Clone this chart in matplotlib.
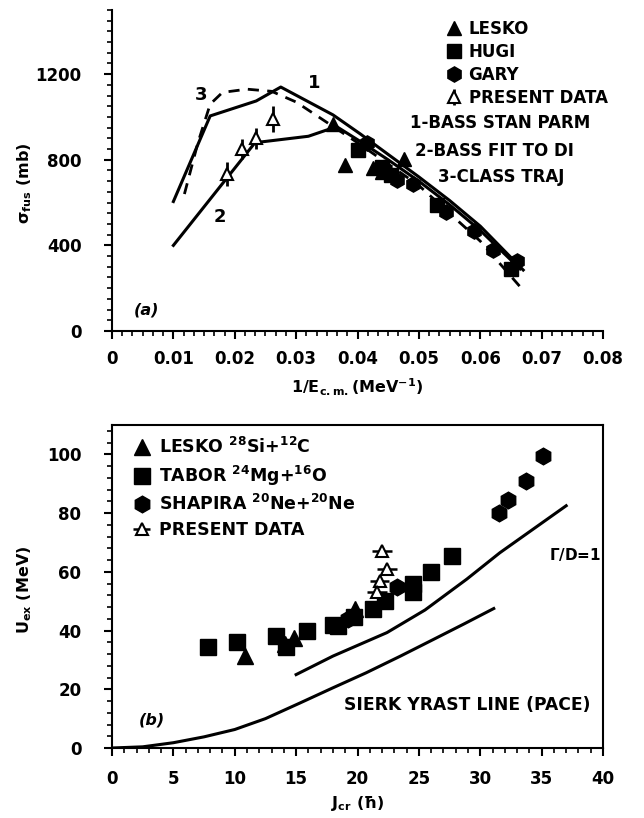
import numpy as np
import matplotlib
matplotlib.use("Agg")
import matplotlib.pyplot as plt
from matplotlib.ticker import MultipleLocator, AutoMinorLocator

plt.rcParams['font.family'] = ['DejaVu Sans']
plt.rcParams['font.weight'] = 'bold'
plt.rcParams['mathtext.fontset'] = 'dejavusans'
plt.rcParams['mathtext.default'] = 'bf'

# ---- panel (a): fusion cross section vs 1/Ecm ----
lesko_a_x = [0.0360, 0.0380, 0.0425, 0.0440, 0.0475]
lesko_a_y = [965, 775, 760, 745, 805]
hugi_x = [0.0400, 0.0440, 0.0455, 0.0530, 0.0650]
hugi_y = [845, 765, 730, 590, 290]
gary_x = [0.0415, 0.0450, 0.0465, 0.0490, 0.0545, 0.0590, 0.0620, 0.0660]
gary_y = [880, 740, 705, 685, 555, 465, 380, 325]
present_a_x = [0.0188, 0.0212, 0.0235, 0.0263]
present_a_y = [733, 850, 900, 990]
present_a_err = [55, 45, 50, 60]

bass1_x = [0.0100, 0.0160, 0.0235, 0.0275, 0.0360, 0.0405, 0.0450, 0.0500, 0.0550, 0.0600, 0.0670]
bass1_y = [605, 1005, 1075, 1140, 1010, 920, 825, 720, 610, 490, 285]
bass2_x = [0.0100, 0.0233, 0.0320, 0.0366, 0.0405, 0.0450, 0.0500, 0.0550, 0.0600, 0.0665]
bass2_y = [400, 880, 910, 955, 885, 800, 700, 590, 470, 290]
class3_x = [0.0118, 0.0140, 0.0160, 0.0180, 0.0220, 0.0260, 0.0300, 0.0400, 0.0500, 0.0600, 0.0667]
class3_y = [640, 880, 1060, 1115, 1130, 1120, 1070, 880, 680, 420, 200]
xticks_a = [0, 0.01, 0.02, 0.03, 0.04, 0.05, 0.06, 0.07, 0.08]
xticklabels_a = ['0', '0.01', '0.02', '0.03', '0.04', '0.05', '0.06', '0.07', '0.08']

# ---- panel (b): excitation energy vs Jcr ----
lesko_b_x = [10.8, 14.1, 14.8, 19.8]
lesko_b_y = [31.5, 35.5, 37.5, 47.5]
tabor_x = [7.8, 10.2, 13.4, 14.2, 15.9, 18.0, 18.4, 19.7, 21.3, 22.2, 24.5, 24.5, 26.0, 27.7]
tabor_y = [34.5, 36.0, 38.0, 34.5, 40.0, 42.0, 41.5, 44.5, 47.5, 50.0, 53.0, 56.0, 60.0, 65.5]
shapira_x = [19.2, 23.2, 31.5, 32.3, 33.7, 35.1]
shapira_y = [44.0, 55.0, 80.0, 84.5, 91.0, 99.5]
present_b_x = [22.0, 22.4, 21.8, 21.6]
present_b_y = [67.0, 61.0, 57.0, 53.0]
present_b_err = [0.8, 0.8, 0.8, 0.8]

gd_x = [15.0, 18.0, 22.4, 25.5, 28.9, 31.6, 34.3, 37.0]
gd_y = [25.0, 31.3, 39.3, 47.0, 57.5, 66.5, 74.5, 82.5]
yrast_x = [0.0, 2.5, 5.0, 7.5, 10.0, 12.5, 15.3, 18.0, 20.7, 23.5, 26.2, 28.7, 31.1]
yrast_y = [0.0, 0.4, 1.8, 3.8, 6.3, 10.0, 15.3, 20.5, 25.6, 31.3, 37.0, 42.3, 47.5]

fig = plt.figure(figsize=(6.44, 8.18), dpi=100)

ax1 = fig.add_axes([112/644, 487/818, 491/644, 321/818])
ax2 = fig.add_axes([112/644, 70/818, 491/644, 323/818])

# panel a
ax1.plot(bass1_x, bass1_y, color='black', lw=2.2)
ax1.plot(bass2_x, bass2_y, color='black', lw=2.2)
ax1.plot(class3_x, class3_y, color='black', lw=2.0, ls=(0, (4, 3)))
ax1.plot(lesko_a_x, lesko_a_y, '^', color='black', ms=10, ls='none', label='LESKO')
ax1.plot(hugi_x, hugi_y, 's', color='black', ms=10, ls='none', label='HUGI')
ax1.plot(gary_x, gary_y, 'h', color='black', ms=11, ls='none', label='GARY')
ax1.errorbar(present_a_x, present_a_y, yerr=present_a_err, fmt='^', mfc='white',
             mec='black', mew=1.5, ms=9, ecolor='black', elinewidth=2, capsize=0,
             label='PRESENT DATA')

ax1.set_xlim(0, 0.08)
ax1.set_ylim(0, 1500)
ax1.set_xticks(xticks_a)
ax1.set_xticklabels(xticklabels_a)
ax1.xaxis.set_minor_locator(AutoMinorLocator(6))
ax1.yaxis.set_major_locator(MultipleLocator(400))
ax1.yaxis.set_minor_locator(AutoMinorLocator(8))
ax1.spines['top'].set_visible(False)
ax1.spines['right'].set_visible(False)
ax1.set_xlabel(r'1/E$_{c.m.}$(MeV$^{-1}$)', fontsize=11.5, fontweight='bold', labelpad=6)
ax1.set_ylabel(r'$\sigma_{fus}$ (mb)', fontsize=11.5, fontweight='bold')
ax1.yaxis.set_label_coords(-0.158, 0.46)

ax1.legend(loc='upper left', bbox_to_anchor=(0.665, 0.99), frameon=False, fontsize=12,
           handletextpad=0.4, labelspacing=0.3, borderaxespad=0.0, handlelength=1.0)
ax1.text(0.0486, 972, '1-BASS STAN PARM', fontsize=12, ha='left', va='center')
ax1.text(0.0494, 842, '2-BASS FIT TO DI', fontsize=12, ha='left', va='center')
ax1.text(0.0531, 720, '3-CLASS TRAJ', fontsize=12, ha='left', va='center')
ax1.text(0.0320, 1135, '1', fontsize=13)
ax1.text(0.0165, 510, '2', fontsize=13)
ax1.text(0.0135, 1080, '3', fontsize=13)
ax1.text(0.0035, 75, '(a)', fontsize=11.5, style='italic')

# panel b
ax2.plot(gd_x, gd_y, color='black', lw=2.2)
ax2.plot(yrast_x, yrast_y, color='black', lw=2.2)
ax2.plot(lesko_b_x, lesko_b_y, '^', color='black', ms=11, ls='none',
         label=r'LESKO $^{28}$Si+$^{12}$C')
ax2.plot(tabor_x, tabor_y, 's', color='black', ms=11, ls='none',
         label=r'TABOR $^{24}$Mg+$^{16}$O')
ax2.plot(shapira_x, shapira_y, 'h', color='black', ms=12, ls='none',
         label=r'SHAPIRA $^{20}$Ne+$^{20}$Ne')
ax2.errorbar(present_b_x, present_b_y, xerr=present_b_err, fmt='^', mfc='white',
             mec='black', mew=1.5, ms=9, ecolor='black', elinewidth=1.8, capsize=0,
             label='PRESENT DATA')

ax2.set_xlim(0, 40)
ax2.set_ylim(0, 110)
ax2.xaxis.set_major_locator(MultipleLocator(5))
ax2.xaxis.set_minor_locator(MultipleLocator(1))
ax2.yaxis.set_major_locator(MultipleLocator(20))
ax2.yaxis.set_minor_locator(MultipleLocator(4))
ax2.set_xlabel(r'J$_{cr}$ ($\hbar$)', fontsize=11.5, fontweight='bold', labelpad=4)
ax2.set_ylabel(r'U$_{ex}$ (MeV)', fontsize=11.5, fontweight='bold')
ax2.yaxis.set_label_coords(-0.158, 0.49)
ax2.legend(loc='upper left', bbox_to_anchor=(0.025, 0.985), frameon=False, fontsize=12.5,
           handletextpad=0.4, labelspacing=0.38, borderaxespad=0.0, handlelength=1.2)
ax2.text(35.6, 66, r'$\Gamma$/D=1', fontsize=11, ha='left', va='center')
ax2.text(18.9, 14.5, 'SIERK YRAST LINE (PACE)', fontsize=12.3, ha='left', va='center')
ax2.text(2.2, 8, '(b)', fontsize=11.5, style='italic')

for ax in (ax1, ax2):
    ax.tick_params(which='major', direction='out', length=6, width=1.5, labelsize=12, pad=8)
    ax.tick_params(which='minor', direction='out', length=3.5, width=1.2)
    ax.tick_params(axis='y', which='major', pad=16)
    for s in ax.spines.values():
        s.set_linewidth(1.5)
    for lab in ax.get_xticklabels() + ax.get_yticklabels():
        lab.set_fontweight('bold')
ax2.tick_params(axis='x', which='major', pad=10)

fig.savefig('out.png', dpi=100)
